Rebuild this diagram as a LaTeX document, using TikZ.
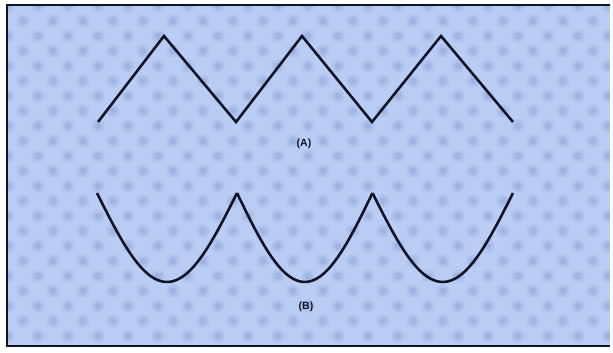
\documentclass[tikz,border=0pt]{standalone}
\usepackage{fontspec}
\setmainfont{Liberation Sans}
\definecolor{bgblue}{RGB}{184,204,244}
\definecolor{dotblue}{RGB}{132,154,210}
\definecolor{inkline}{RGB}{18,20,38}
\tikzset{
  wave/.style={line width=2.2pt, inkline, line join=miter},
  waveLabel/.style={font=\fontsize{9}{10}\selectfont\bfseries, text=inkline, inner sep=1pt}
}
\begin{document}
\begin{tikzpicture}[x=0.03cm, y=-0.03cm]
				\useasboundingbox (0,0) rectangle (613,352);
				% 1. 底色与网点层（最底层）
				\fill[bgblue] (7,5) rectangle (610,346);
				\begin{scope}
					\clip (7,5) rectangle (610,346);
					\foreach \i in {0,...,20}
						\foreach \j in {0,...,23}{
							\fill[dotblue, opacity=0.18] ({8+30*\i+15*mod(\j,2)}, {6+15*\j}) circle (6.5);
							\fill[dotblue, opacity=0.3] ({8+30*\i+15*mod(\j,2)}, {6+15*\j}) circle (3.5);
						}
				\end{scope}
				\draw[inkline, line width=1.3pt] (610,5) -- (7,5) -- (7,346) -- (610,346);
				
				% 2. 三角波 (A)
				\draw[wave] (98,122) -- (164,36) -- (236,122) -- (302,36) -- (372,122) -- (441,36) -- (513,122);
				
				% 3. 整流正弦波 (B)，逐段画出，尖点相接
				\foreach \l/\r in {97/237, 237/372.5, 372.5/513}
					\draw[wave, smooth, samples=40, domain=\l:\r] plot (\x, {193 + 89*cos(180*(\x-(\l+\r)/2)/(\r-\l))});
				
				% 4. 标号
				\node[waveLabel] (labelA) at (304,144) {(A)};
				\node[waveLabel] (labelB) at (306,307) {(B)};
			\end{tikzpicture}
\end{document}
